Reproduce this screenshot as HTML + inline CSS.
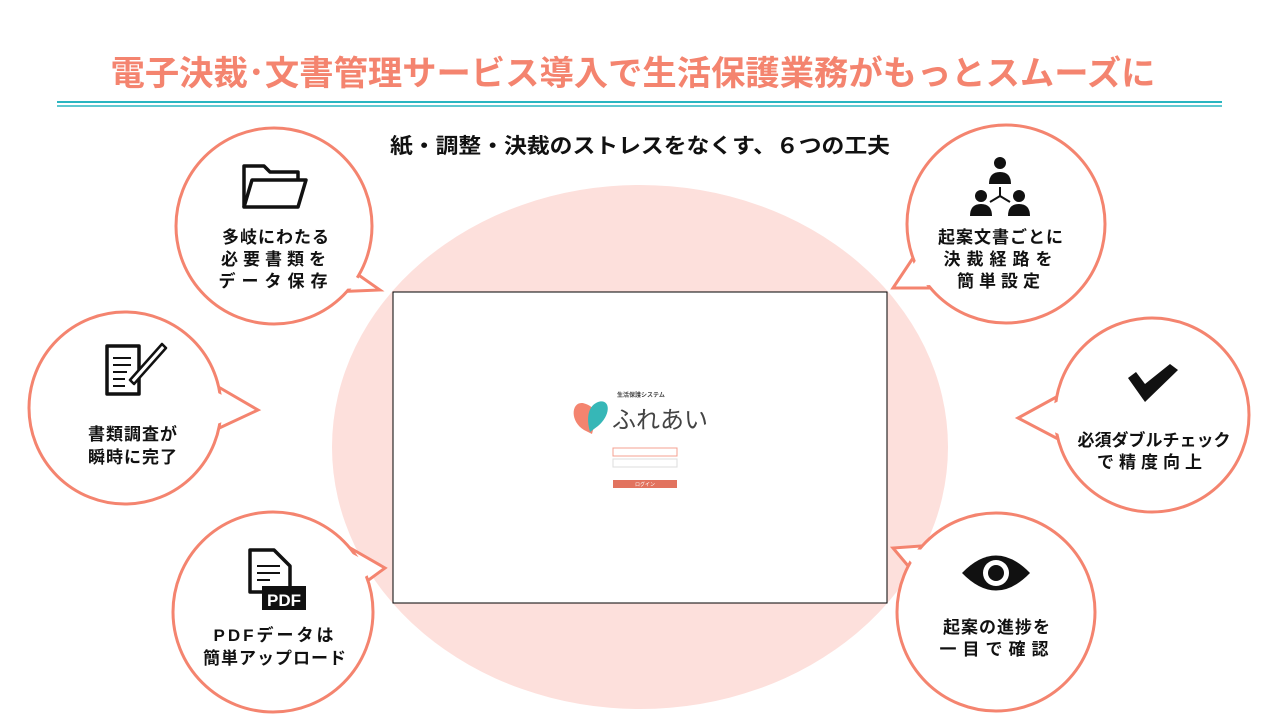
<!DOCTYPE html>
<html><head><meta charset="utf-8"><style>
html,body{margin:0;padding:0;width:1280px;height:720px;overflow:hidden;background:#fff}
svg text{font-family:"Liberation Sans","Noto Sans CJK JP",sans-serif;font-weight:bold}
</style></head><body>
<svg width="1280" height="720" viewBox="0 0 1280 720" xmlns="http://www.w3.org/2000/svg">
<text x="633" y="85" text-anchor="middle" font-size="34" fill="#f4846f" textLength="1045" lengthAdjust="spacingAndGlyphs">電子決裁･文書管理サービス導入で生活保護業務がもっとスムーズに</text>
<line x1="57" y1="102" x2="1222" y2="102" stroke="#2bb5c0" stroke-width="2"/>
<line x1="57" y1="106" x2="1222" y2="106" stroke="#2bb5c0" stroke-width="1.5"/>
<text x="640" y="153" text-anchor="middle" font-size="21" fill="#111" textLength="500" lengthAdjust="spacingAndGlyphs">紙・調整・決裁のストレスをなくす、６つの工夫</text>
<ellipse cx="640" cy="447" rx="308" ry="262" fill="#fde0dc"/>
<rect x="393" y="292" width="494" height="311" fill="#fff" stroke="#000" stroke-width="1"/>
<path d="M586 404 C572 398 568 420 584 430 L592 434 C596 420 598 408 586 404Z" fill="#f4846f"/>
<path d="M598 402 C610 398 612 414 598 426 L590 432 C586 418 588 406 598 402Z" fill="#36b7b7"/>
<text x="617" y="397" font-size="6" fill="#444">生活保護システム</text>
<text x="612" y="428" font-size="24" fill="#444" style="font-weight:normal">ふれあい</text>
<rect x="613" y="448" width="64" height="8" fill="#fff" stroke="#f4a090" stroke-width="1"/>
<rect x="613" y="459" width="64" height="8" fill="#fff" stroke="#ddd" stroke-width="1"/>
<rect x="613" y="480" width="64" height="8" fill="#e2735f"/>
<text x="645" y="486" font-size="5" text-anchor="middle" fill="#fff" style="font-weight:normal">ログイン</text>
<g stroke="#f4846f" stroke-width="3" fill="#fff">
<polygon points="340,262 380,290 330,292"/>
<circle cx="274" cy="226" r="98"/>
<polygon points="338,266 374,288 332,289" stroke="none"/>
<polygon points="215,385 258,410 215,430"/>
<circle cx="125" cy="408" r="96"/>
<polygon points="212,390 252,410 212,426" stroke="none"/>
<polygon points="345,545 385,568 355,590"/>
<circle cx="273" cy="612" r="100"/>
<polygon points="345,550 379,568 352,585" stroke="none"/>
<polygon points="915,255 893,288 935,288"/>
<circle cx="1006" cy="224" r="99"/>
<polygon points="917,259 899,286 932,285" stroke="none"/>
<polygon points="1060,395 1018,418 1060,440"/>
<circle cx="1152" cy="415" r="97"/>
<polygon points="1063,399 1024,418 1063,436" stroke="none"/>
<polygon points="935,545 893,548 920,580"/>
<circle cx="996" cy="612" r="99"/>
<polygon points="935,550 900,549 922,575" stroke="none"/>
</g>
<g fill="none" stroke="#111" stroke-width="3.5" stroke-linejoin="round">
<path d="M244 207 V166 H264 L270 172 H298 V180"/>
<path d="M244 207 L252 180 H306 L298 207 Z"/>
<rect x="107" y="346" width="32" height="48"/>
<path d="M113 358 H131 M113 365 H131 M113 372 H127 M113 379 H125 M113 386 H125" stroke-width="2"/>
<path d="M130 380 L162 344 L166 348 L134 384 Z" fill="#fff" stroke-width="2.5"/>
<path d="M250 550 V592 H290 V566 L274 550 Z"/>
<path d="M257 566 H280 M257 573 H280 M257 580 H270" stroke-width="2"/>
</g>
<rect x="262" y="586" width="44" height="24" fill="#111"/>
<text x="284" y="606" font-size="17" text-anchor="middle" fill="#fff">PDF</text>
<path d="M1128 378 L1136 372 L1145 384 L1170 364 L1178 370 L1145 402 Z" fill="#111"/>
<g fill="#111">
<circle cx="1000" cy="163" r="6"/><path d="M989 184 Q989 172 1000 172 Q1011 172 1011 184 Z"/>
<circle cx="981" cy="196" r="6"/><path d="M970 216 Q970 204 981 204 Q992 204 992 216 Z"/>
<circle cx="1019" cy="196" r="6"/><path d="M1008 216 Q1008 204 1019 204 Q1030 204 1030 216 Z"/>
</g>
<path d="M1000 187 V196 L990 202 M1000 196 L1010 202" stroke="#111" stroke-width="2" fill="none"/>
<path d="M962 573 Q996 538 1030 573 Q996 608 962 573 Z" fill="#111"/>
<circle cx="996" cy="573" r="13" fill="#fff"/><circle cx="996" cy="573" r="8" fill="#111"/>
<g font-size="17" fill="#111" text-anchor="middle">
<text x="276" y="243" letter-spacing="1">多岐にわたる</text>
<text x="276" y="265" letter-spacing="5">必要書類を</text>
<text x="276" y="287" letter-spacing="6">データ保存</text>
<text x="133" y="440" letter-spacing="1">書類調査が</text>
<text x="133" y="463" letter-spacing="1">瞬時に完了</text>
<text x="275" y="641" letter-spacing="3">PDFデータは</text>
<text x="275" y="664" letter-spacing="1">簡単アップロード</text>
<text x="1001" y="243" letter-spacing="1">起案文書ごとに</text>
<text x="1001" y="265" letter-spacing="6">決裁経路を</text>
<text x="1001" y="287" letter-spacing="5">簡単設定</text>
<text x="1154" y="446">必須ダブルチェック</text>
<text x="1152" y="468" letter-spacing="5">で精度向上</text>
<text x="997" y="633" letter-spacing="1">起案の進捗を</text>
<text x="997" y="655" letter-spacing="6">一目で確認</text>
</g>
</svg>
</body></html>
